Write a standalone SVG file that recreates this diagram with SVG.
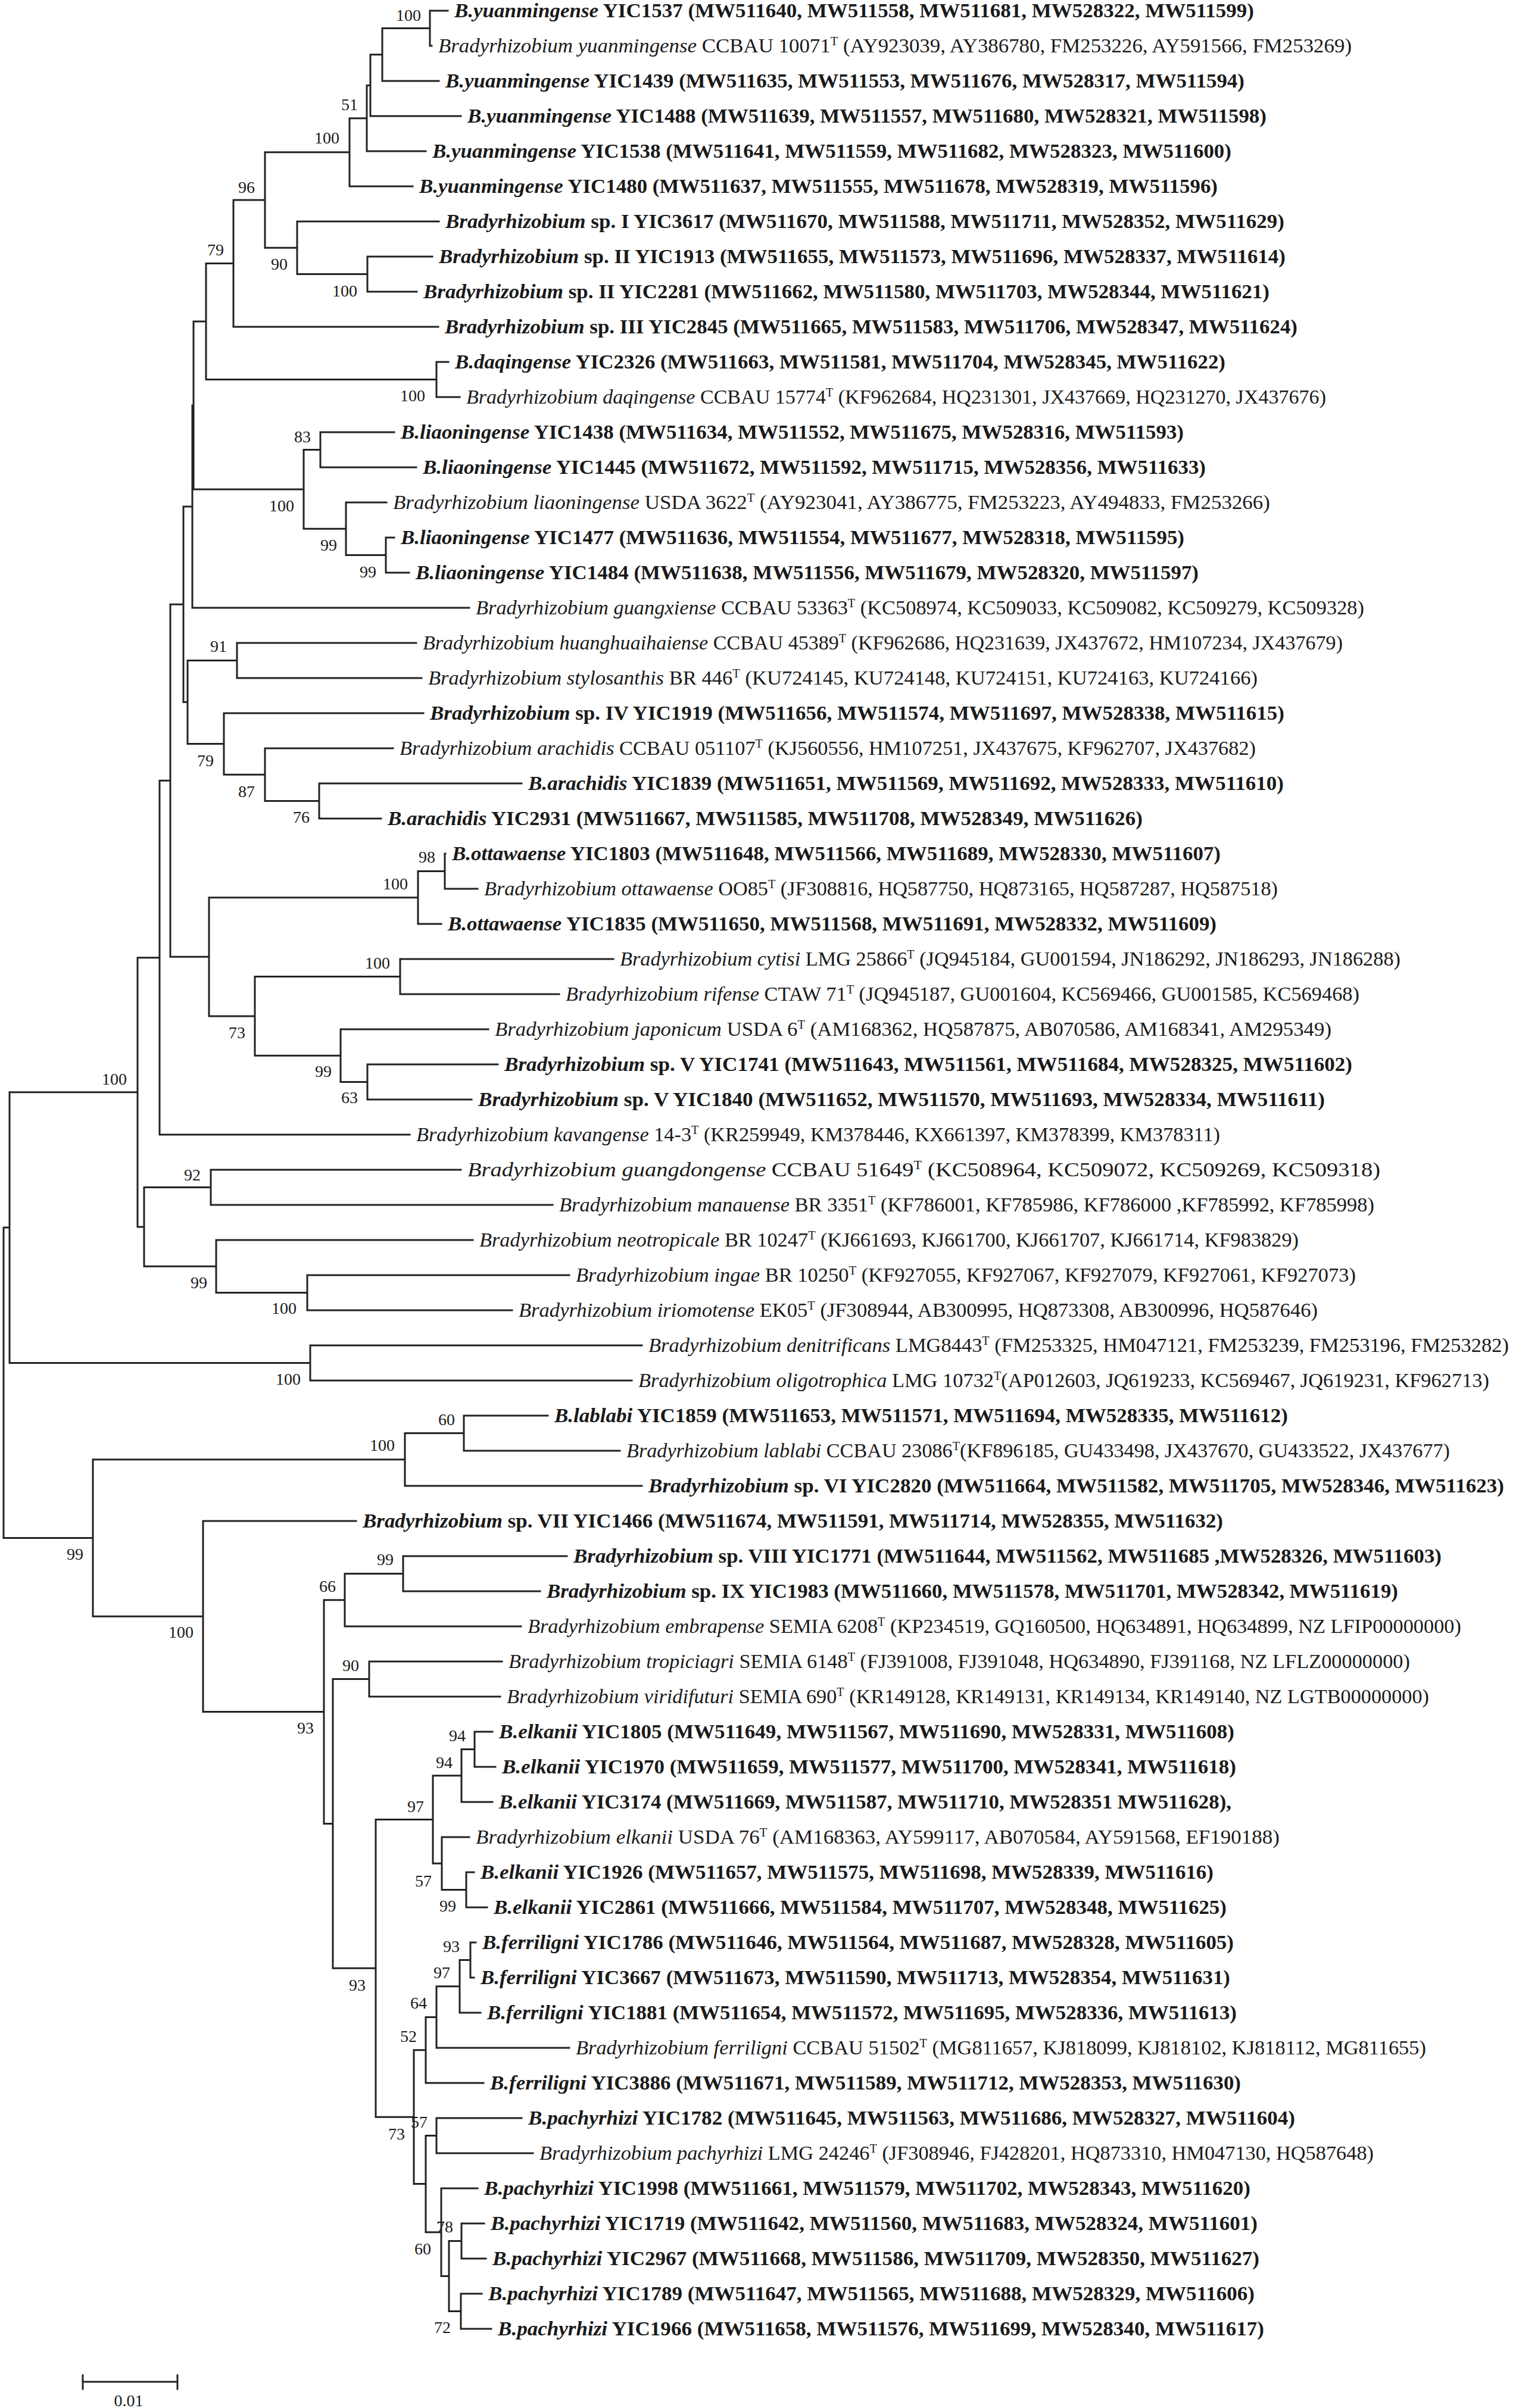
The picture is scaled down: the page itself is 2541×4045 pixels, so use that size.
<svg xmlns="http://www.w3.org/2000/svg" width="2541" height="4045" viewBox="0 0 2541 4045">
<style>
.t{font-family:"Liberation Serif","Times New Roman",serif;font-size:34px;fill:#1a1a1a}
.b{font-weight:bold}
.i{font-style:italic}
.s{font-size:20px}
.bs{font-family:"Liberation Serif","Times New Roman",serif;font-size:28px;fill:#1a1a1a;text-anchor:middle}
.edge{fill:none;stroke:#222;stroke-width:3;stroke-linecap:square}
</style>
<rect width="2541" height="4045" fill="#fff"/>
<g id="connectors" class="edge">
<path d="M722 18V77M722 18H752M722 77H725
M642 47.5V136M642 47.5H722M642 136H737
M622 91.75V195M622 91.75H642M622 195H774
M616 143.4V254M616 143.4H622M616 254H715
M587 198.7V313M587 198.7H616M587 313H693
M617 431V490M617 431H726M617 490H700
M499 372V460.5M499 372H737M499 460.5H617
M445 255.8V416.25M445 255.8H587M445 416.25H499
M392 336V549M392 336H445M392 549H736
M733 608V667M733 608H753M733 667H772
M346 442.5V637.5M346 442.5H392M346 637.5H733
M538 726V785M538 726H662M538 785H699
M648 903V962M648 903H662M648 962H687
M581 844V932.5M581 844H649M581 932.5H648
M510 755.5V888.25M510 755.5H538M510 888.25H581
M325 540V821.9M325 540H346M325 821.9H510
M323 681V1021M323 681H325M323 1021H788
M398 1080V1139M398 1080H699M398 1139H708
M536 1316V1375M536 1316H876M536 1375H640
M445 1257V1345.5M445 1257H660M445 1345.5H536
M376 1198V1301.25M376 1198H711M376 1301.25H445
M315 1109.5V1249.6M315 1109.5H398M315 1249.6H376
M308 851V1179.6M308 851H323M308 1179.6H315
M747 1434V1493M747 1434H748M747 1493H802
M702 1463.5V1552M702 1463.5H747M702 1552H741
M672 1611V1670M672 1611H1030M672 1670H939
M617 1788V1847M617 1788H836M617 1847H792
M572 1729V1817.5M572 1729H820M572 1817.5H617
M428 1640.5V1773.25M428 1640.5H672M428 1773.25H572
M351 1507.75V1706.9M351 1507.75H702M351 1706.9H428
M286 1015.3V1607.3M286 1015.3H308M286 1607.3H351
M268 1311.3V1906M268 1311.3H286M268 1906H688
M354 1965V2024M354 1965H774M354 2024H928
M516 2142V2201M516 2142H956M516 2201H860
M363 2083V2171.5M363 2083H794M363 2171.5H516
M242 1994.5V2127.25M242 1994.5H354M242 2127.25H363
M231 1608.7V2060.9M231 1608.7H268M231 2060.9H242
M521 2260V2319M521 2260H1078M521 2319H1061
M16 1834.8V2289.5M16 1834.8H231M16 2289.5H521
M779 2378V2437M779 2378H920M779 2437H1041
M680 2407.5V2496M680 2407.5H779M680 2496H1078
M677 2614V2673M677 2614H952M677 2673H907
M579 2643.5V2732M579 2643.5H677M579 2732H875
M620 2791V2850M620 2791H843M620 2850H840
M797 2909V2968M797 2909H827M797 2968H832
M775 2938.5V3027M775 2938.5H797M775 3027H827
M783 3145V3204M783 3145H796M783 3204H818
M742 3086V3174.5M742 3086H788M742 3174.5H783
M727 2982.75V3130.25M727 2982.75H775M727 3130.25H742
M790 3263V3322M790 3263H799M790 3322H796
M772 3292.5V3381M772 3292.5H790M772 3381H807
M733 3336.75V3440M733 3336.75H772M733 3440H956
M715 3388.4V3499M715 3388.4H733M715 3499H812
M733 3558V3617M733 3558H876M733 3617H895
M775 3735V3794M775 3735H813M775 3794H816
M774 3853V3912M774 3853H809M774 3912H825
M754 3764.5V3882.5M754 3764.5H775M754 3882.5H774
M741 3676V3823.5M741 3676H802M741 3823.5H754
M715 3587.5V3749.75M715 3587.5H733M715 3749.75H741
M695 3443.7V3668.6M695 3443.7H715M695 3668.6H715
M631 3056.5V3556.2M631 3056.5H727M631 3556.2H695
M559 2820.5V3306.3M559 2820.5H620M559 3306.3H631
M544 2687.75V3063.4M544 2687.75H579M544 3063.4H559
M341 2555V2875.6M341 2555H598M341 2875.6H544
M156 2451.75V2715.3M156 2451.75H680M156 2715.3H341
M6 2062V2583.5M6 2062H16M6 2583.5H156"/>
</g>
<g id="bootstrap" class="bs">
<text x="686" y="35">100</text>
<text x="587" y="185">51</text>
<text x="549" y="241">100</text>
<text x="414" y="324">96</text>
<text x="362" y="429">79</text>
<text x="469" y="453">90</text>
<text x="579" y="498">100</text>
<text x="693" y="674">100</text>
<text x="508" y="743">83</text>
<text x="473" y="859">100</text>
<text x="552" y="925">99</text>
<text x="618" y="970">99</text>
<text x="367" y="1095">91</text>
<text x="345" y="1287">79</text>
<text x="414" y="1339">87</text>
<text x="506" y="1382">76</text>
<text x="717" y="1449">98</text>
<text x="664" y="1494">100</text>
<text x="634" y="1627">100</text>
<text x="398" y="1744">73</text>
<text x="543" y="1809">99</text>
<text x="587" y="1853">63</text>
<text x="192" y="1822">100</text>
<text x="323" y="1983">92</text>
<text x="334" y="2164">99</text>
<text x="477" y="2207">100</text>
<text x="484" y="2326">100</text>
<text x="750" y="2394">60</text>
<text x="642" y="2437">100</text>
<text x="126" y="2620">99</text>
<text x="647" y="2629">99</text>
<text x="550" y="2674">66</text>
<text x="304" y="2751">100</text>
<text x="589" y="2807">90</text>
<text x="513" y="2912">93</text>
<text x="768" y="2925">94</text>
<text x="746" y="2970">94</text>
<text x="698" y="3044">97</text>
<text x="711" y="3169">57</text>
<text x="752" y="3211">99</text>
<text x="758" y="3279">93</text>
<text x="742" y="3323">97</text>
<text x="600" y="3344">93</text>
<text x="703" y="3374">64</text>
<text x="686" y="3430">52</text>
<text x="704" y="3574">57</text>
<text x="666" y="3594">73</text>
<text x="747" y="3750">78</text>
<text x="710" y="3787">60</text>
<text x="743" y="3919">72</text>
</g>
<g id="leaves" class="t">
<g id="n1"><text x="763" y="29" textLength="1343" lengthAdjust="spacingAndGlyphs" class="b"><tspan class="i">B.yuanmingense</tspan> YIC1537 (MW511640, MW511558, MW511681, MW528322, MW511599)</text></g>
<g id="n2"><text x="736" y="88" textLength="1534" lengthAdjust="spacingAndGlyphs"><tspan class="i">Bradyrhizobium yuanmingense</tspan> CCBAU 10071<tspan class="s" dy="-12">T</tspan><tspan dy="12"> (AY923039, AY386780, FM253226, AY591566, FM253269)</tspan></text></g>
<g id="n3"><text x="748" y="147" textLength="1342" lengthAdjust="spacingAndGlyphs" class="b"><tspan class="i">B.yuanmingense</tspan> YIC1439 (MW511635, MW511553, MW511676, MW528317, MW511594)</text></g>
<g id="n4"><text x="785" y="206" textLength="1342" lengthAdjust="spacingAndGlyphs" class="b"><tspan class="i">B.yuanmingense</tspan> YIC1488 (MW511639, MW511557, MW511680, MW528321, MW511598)</text></g>
<g id="n5"><text x="726" y="265" textLength="1342" lengthAdjust="spacingAndGlyphs" class="b"><tspan class="i">B.yuanmingense</tspan> YIC1538 (MW511641, MW511559, MW511682, MW528323, MW511600)</text></g>
<g id="n6"><text x="704" y="324" textLength="1341" lengthAdjust="spacingAndGlyphs" class="b"><tspan class="i">B.yuanmingense</tspan> YIC1480 (MW511637, MW511555, MW511678, MW528319, MW511596)</text></g>
<g id="n7"><text x="748" y="383" textLength="1409" lengthAdjust="spacingAndGlyphs" class="b"><tspan class="i">Bradyrhizobium</tspan> sp. I YIC3617 (MW511670, MW511588, MW511711, MW528352, MW511629)</text></g>
<g id="n8"><text x="737" y="442" textLength="1422" lengthAdjust="spacingAndGlyphs" class="b"><tspan class="i">Bradyrhizobium</tspan> sp. II YIC1913 (MW511655, MW511573, MW511696, MW528337, MW511614)</text></g>
<g id="n9"><text x="711" y="501" textLength="1421" lengthAdjust="spacingAndGlyphs" class="b"><tspan class="i">Bradyrhizobium</tspan> sp. II YIC2281 (MW511662, MW511580, MW511703, MW528344, MW511621)</text></g>
<g id="n10"><text x="747" y="560" textLength="1432" lengthAdjust="spacingAndGlyphs" class="b"><tspan class="i">Bradyrhizobium</tspan> sp. III YIC2845 (MW511665, MW511583, MW511706, MW528347, MW511624)</text></g>
<g id="n11"><text x="764" y="619" textLength="1294" lengthAdjust="spacingAndGlyphs" class="b"><tspan class="i">B.daqingense</tspan> YIC2326 (MW511663, MW511581, MW511704, MW528345, MW511622)</text></g>
<g id="n12"><text x="783" y="678" textLength="1444" lengthAdjust="spacingAndGlyphs"><tspan class="i">Bradyrhizobium daqingense</tspan> CCBAU 15774<tspan class="s" dy="-12">T</tspan><tspan dy="12"> (KF962684, HQ231301, JX437669, HQ231270, JX437676)</tspan></text></g>
<g id="n13"><text x="673" y="737" textLength="1315" lengthAdjust="spacingAndGlyphs" class="b"><tspan class="i">B.liaoningense</tspan> YIC1438 (MW511634, MW511552, MW511675, MW528316, MW511593)</text></g>
<g id="n14"><text x="710" y="796" textLength="1315" lengthAdjust="spacingAndGlyphs" class="b"><tspan class="i">B.liaoningense</tspan> YIC1445 (MW511672, MW511592, MW511715, MW528356, MW511633)</text></g>
<g id="n15"><text x="660" y="855" textLength="1473" lengthAdjust="spacingAndGlyphs"><tspan class="i">Bradyrhizobium liaoningense</tspan> USDA 3622<tspan class="s" dy="-12">T</tspan><tspan dy="12"> (AY923041, AY386775, FM253223, AY494833, FM253266)</tspan></text></g>
<g id="n16"><text x="673" y="914" textLength="1316" lengthAdjust="spacingAndGlyphs" class="b"><tspan class="i">B.liaoningense</tspan> YIC1477 (MW511636, MW511554, MW511677, MW528318, MW511595)</text></g>
<g id="n17"><text x="698" y="973" textLength="1315" lengthAdjust="spacingAndGlyphs" class="b"><tspan class="i">B.liaoningense</tspan> YIC1484 (MW511638, MW511556, MW511679, MW528320, MW511597)</text></g>
<g id="n18"><text x="799" y="1032" textLength="1492" lengthAdjust="spacingAndGlyphs"><tspan class="i">Bradyrhizobium guangxiense</tspan> CCBAU 53363<tspan class="s" dy="-12">T</tspan><tspan dy="12"> (KC508974, KC509033, KC509082, KC509279, KC509328)</tspan></text></g>
<g id="n19"><text x="710" y="1091" textLength="1545" lengthAdjust="spacingAndGlyphs"><tspan class="i">Bradyrhizobium huanghuaihaiense</tspan> CCBAU 45389<tspan class="s" dy="-12">T</tspan><tspan dy="12"> (KF962686, HQ231639, JX437672, HM107234, JX437679)</tspan></text></g>
<g id="n20"><text x="719" y="1150" textLength="1393" lengthAdjust="spacingAndGlyphs"><tspan class="i">Bradyrhizobium stylosanthis</tspan> BR 446<tspan class="s" dy="-12">T</tspan><tspan dy="12"> (KU724145, KU724148, KU724151, KU724163, KU724166)</tspan></text></g>
<g id="n21"><text x="722" y="1209" textLength="1435" lengthAdjust="spacingAndGlyphs" class="b"><tspan class="i">Bradyrhizobium</tspan> sp. IV YIC1919 (MW511656, MW511574, MW511697, MW528338, MW511615)</text></g>
<g id="n22"><text x="671" y="1268" textLength="1438" lengthAdjust="spacingAndGlyphs"><tspan class="i">Bradyrhizobium arachidis</tspan> CCBAU 051107<tspan class="s" dy="-12">T</tspan><tspan dy="12"> (KJ560556, HM107251, JX437675, KF962707, JX437682)</tspan></text></g>
<g id="n23"><text x="887" y="1327" textLength="1269" lengthAdjust="spacingAndGlyphs" class="b"><tspan class="i">B.arachidis</tspan> YIC1839 (MW511651, MW511569, MW511692, MW528333, MW511610)</text></g>
<g id="n24"><text x="651" y="1386" textLength="1268" lengthAdjust="spacingAndGlyphs" class="b"><tspan class="i">B.arachidis</tspan> YIC2931 (MW511667, MW511585, MW511708, MW528349, MW511626)</text></g>
<g id="n25"><text x="759" y="1445" textLength="1291" lengthAdjust="spacingAndGlyphs" class="b"><tspan class="i">B.ottawaense</tspan> YIC1803 (MW511648, MW511566, MW511689, MW528330, MW511607)</text></g>
<g id="n26"><text x="813" y="1504" textLength="1333" lengthAdjust="spacingAndGlyphs"><tspan class="i">Bradyrhizobium ottawaense</tspan> OO85<tspan class="s" dy="-12">T</tspan><tspan dy="12"> (JF308816, HQ587750, HQ873165, HQ587287, HQ587518)</tspan></text></g>
<g id="n27"><text x="752" y="1563" textLength="1291" lengthAdjust="spacingAndGlyphs" class="b"><tspan class="i">B.ottawaense</tspan> YIC1835 (MW511650, MW511568, MW511691, MW528332, MW511609)</text></g>
<g id="n28"><text x="1041" y="1622" textLength="1311" lengthAdjust="spacingAndGlyphs"><tspan class="i">Bradyrhizobium cytisi</tspan> LMG 25866<tspan class="s" dy="-12">T</tspan><tspan dy="12"> (JQ945184, GU001594, JN186292, JN186293, JN186288)</tspan></text></g>
<g id="n29"><text x="950" y="1681" textLength="1333" lengthAdjust="spacingAndGlyphs"><tspan class="i">Bradyrhizobium rifense</tspan> CTAW 71<tspan class="s" dy="-12">T</tspan><tspan dy="12"> (JQ945187, GU001604, KC569466, GU001585, KC569468)</tspan></text></g>
<g id="n30"><text x="831" y="1740" textLength="1405" lengthAdjust="spacingAndGlyphs"><tspan class="i">Bradyrhizobium japonicum</tspan> USDA 6<tspan class="s" dy="-12">T</tspan><tspan dy="12"> (AM168362, HQ587875, AB070586, AM168341, AM295349)</tspan></text></g>
<g id="n31"><text x="847" y="1799" textLength="1424" lengthAdjust="spacingAndGlyphs" class="b"><tspan class="i">Bradyrhizobium</tspan> sp. V YIC1741 (MW511643, MW511561, MW511684, MW528325, MW511602)</text></g>
<g id="n32"><text x="803" y="1858" textLength="1422" lengthAdjust="spacingAndGlyphs" class="b"><tspan class="i">Bradyrhizobium</tspan> sp. V YIC1840 (MW511652, MW511570, MW511693, MW528334, MW511611)</text></g>
<g id="n33"><text x="699" y="1917" textLength="1350" lengthAdjust="spacingAndGlyphs"><tspan class="i">Bradyrhizobium kavangense</tspan> 14-3<tspan class="s" dy="-12">T</tspan><tspan dy="12"> (KR259949, KM378446, KX661397, KM378399, KM378311)</tspan></text></g>
<g id="n34"><text x="785" y="1976" textLength="1533" lengthAdjust="spacingAndGlyphs"><tspan class="i">Bradyrhizobium guangdongense</tspan> CCBAU 51649<tspan class="s" dy="-12">T</tspan><tspan dy="12"> (KC508964, KC509072, KC509269, KC509318)</tspan></text></g>
<g id="n35"><text x="939" y="2035" textLength="1369" lengthAdjust="spacingAndGlyphs"><tspan class="i">Bradyrhizobium manauense</tspan> BR 3351<tspan class="s" dy="-12">T</tspan><tspan dy="12"> (KF786001, KF785986, KF786000 ,KF785992, KF785998)</tspan></text></g>
<g id="n36"><text x="805" y="2094" textLength="1376" lengthAdjust="spacingAndGlyphs"><tspan class="i">Bradyrhizobium neotropicale</tspan> BR 10247<tspan class="s" dy="-12">T</tspan><tspan dy="12"> (KJ661693, KJ661700, KJ661707, KJ661714, KF983829)</tspan></text></g>
<g id="n37"><text x="967" y="2153" textLength="1310" lengthAdjust="spacingAndGlyphs"><tspan class="i">Bradyrhizobium ingae</tspan> BR 10250<tspan class="s" dy="-12">T</tspan><tspan dy="12"> (KF927055, KF927067, KF927079, KF927061, KF927073)</tspan></text></g>
<g id="n38"><text x="871" y="2212" textLength="1342" lengthAdjust="spacingAndGlyphs"><tspan class="i">Bradyrhizobium iriomotense</tspan> EK05<tspan class="s" dy="-12">T</tspan><tspan dy="12"> (JF308944, AB300995, HQ873308, AB300996, HQ587646)</tspan></text></g>
<g id="n39"><text x="1089" y="2271" textLength="1445" lengthAdjust="spacingAndGlyphs"><tspan class="i">Bradyrhizobium denitrificans</tspan> LMG8443<tspan class="s" dy="-12">T</tspan><tspan dy="12"> (FM253325, HM047121, FM253239, FM253196, FM253282)</tspan></text></g>
<g id="n40"><text x="1072" y="2330" textLength="1429" lengthAdjust="spacingAndGlyphs"><tspan class="i">Bradyrhizobium oligotrophica</tspan> LMG 10732<tspan class="s" dy="-12">T</tspan><tspan dy="12">(AP012603, JQ619233, KC569467, JQ619231, KF962713)</tspan></text></g>
<g id="n41"><text x="931" y="2389" textLength="1232" lengthAdjust="spacingAndGlyphs" class="b"><tspan class="i">B.lablabi</tspan> YIC1859 (MW511653, MW511571, MW511694, MW528335, MW511612)</text></g>
<g id="n42"><text x="1052" y="2448" textLength="1383" lengthAdjust="spacingAndGlyphs"><tspan class="i">Bradyrhizobium lablabi</tspan> CCBAU 23086<tspan class="s" dy="-12">T</tspan><tspan dy="12">(KF896185, GU433498, JX437670, GU433522, JX437677)</tspan></text></g>
<g id="n43"><text x="1089" y="2507" textLength="1437" lengthAdjust="spacingAndGlyphs" class="b"><tspan class="i">Bradyrhizobium</tspan> sp. VI YIC2820 (MW511664, MW511582, MW511705, MW528346, MW511623)</text></g>
<g id="n44"><text x="609" y="2566" textLength="1445" lengthAdjust="spacingAndGlyphs" class="b"><tspan class="i">Bradyrhizobium</tspan> sp. VII YIC1466 (MW511674, MW511591, MW511714, MW528355, MW511632)</text></g>
<g id="n45"><text x="963" y="2625" textLength="1458" lengthAdjust="spacingAndGlyphs" class="b"><tspan class="i">Bradyrhizobium</tspan> sp. VIII YIC1771 (MW511644, MW511562, MW511685 ,MW528326, MW511603)</text></g>
<g id="n46"><text x="918" y="2684" textLength="1430" lengthAdjust="spacingAndGlyphs" class="b"><tspan class="i">Bradyrhizobium</tspan> sp. IX YIC1983 (MW511660, MW511578, MW511701, MW528342, MW511619)</text></g>
<g id="n47"><text x="886" y="2743" textLength="1568" lengthAdjust="spacingAndGlyphs"><tspan class="i">Bradyrhizobium embrapense</tspan> SEMIA 6208<tspan class="s" dy="-12">T</tspan><tspan dy="12"> (KP234519, GQ160500, HQ634891, HQ634899, NZ LFIP00000000)</tspan></text></g>
<g id="n48"><text x="854" y="2802" textLength="1514" lengthAdjust="spacingAndGlyphs"><tspan class="i">Bradyrhizobium tropiciagri</tspan> SEMIA 6148<tspan class="s" dy="-12">T</tspan><tspan dy="12"> (FJ391008, FJ391048, HQ634890, FJ391168, NZ LFLZ00000000)</tspan></text></g>
<g id="n49"><text x="851" y="2861" textLength="1549" lengthAdjust="spacingAndGlyphs"><tspan class="i">Bradyrhizobium viridifuturi</tspan> SEMIA 690<tspan class="s" dy="-12">T</tspan><tspan dy="12"> (KR149128, KR149131, KR149134, KR149140, NZ LGTB00000000)</tspan></text></g>
<g id="n50"><text x="838" y="2920" textLength="1235" lengthAdjust="spacingAndGlyphs" class="b"><tspan class="i">B.elkanii</tspan> YIC1805 (MW511649, MW511567, MW511690, MW528331, MW511608)</text></g>
<g id="n51"><text x="843" y="2979" textLength="1233" lengthAdjust="spacingAndGlyphs" class="b"><tspan class="i">B.elkanii</tspan> YIC1970 (MW511659, MW511577, MW511700, MW528341, MW511618)</text></g>
<g id="n52"><text x="838" y="3038" textLength="1230" lengthAdjust="spacingAndGlyphs" class="b"><tspan class="i">B.elkanii</tspan> YIC3174 (MW511669, MW511587, MW511710, MW528351 MW511628),</text></g>
<g id="n53"><text x="799" y="3097" textLength="1350" lengthAdjust="spacingAndGlyphs"><tspan class="i">Bradyrhizobium elkanii</tspan> USDA 76<tspan class="s" dy="-12">T</tspan><tspan dy="12"> (AM168363, AY599117, AB070584, AY591568, EF190188)</tspan></text></g>
<g id="n54"><text x="807" y="3156" textLength="1231" lengthAdjust="spacingAndGlyphs" class="b"><tspan class="i">B.elkanii</tspan> YIC1926 (MW511657, MW511575, MW511698, MW528339, MW511616)</text></g>
<g id="n55"><text x="829" y="3215" textLength="1231" lengthAdjust="spacingAndGlyphs" class="b"><tspan class="i">B.elkanii</tspan> YIC2861 (MW511666, MW511584, MW511707, MW528348, MW511625)</text></g>
<g id="n56"><text x="810" y="3274" textLength="1262" lengthAdjust="spacingAndGlyphs" class="b"><tspan class="i">B.ferriligni</tspan> YIC1786 (MW511646, MW511564, MW511687, MW528328, MW511605)</text></g>
<g id="n57"><text x="807" y="3333" textLength="1259" lengthAdjust="spacingAndGlyphs" class="b"><tspan class="i">B.ferriligni</tspan> YIC3667 (MW511673, MW511590, MW511713, MW528354, MW511631)</text></g>
<g id="n58"><text x="818" y="3392" textLength="1259" lengthAdjust="spacingAndGlyphs" class="b"><tspan class="i">B.ferriligni</tspan> YIC1881 (MW511654, MW511572, MW511695, MW528336, MW511613)</text></g>
<g id="n59"><text x="967" y="3451" textLength="1428" lengthAdjust="spacingAndGlyphs"><tspan class="i">Bradyrhizobium ferriligni</tspan> CCBAU 51502<tspan class="s" dy="-12">T</tspan><tspan dy="12"> (MG811657, KJ818099, KJ818102, KJ818112, MG811655)</tspan></text></g>
<g id="n60"><text x="823" y="3510" textLength="1261" lengthAdjust="spacingAndGlyphs" class="b"><tspan class="i">B.ferriligni</tspan> YIC3886 (MW511671, MW511589, MW511712, MW528353, MW511630)</text></g>
<g id="n61"><text x="887" y="3569" textLength="1288" lengthAdjust="spacingAndGlyphs" class="b"><tspan class="i">B.pachyrhizi</tspan> YIC1782 (MW511645, MW511563, MW511686, MW528327, MW511604)</text></g>
<g id="n62"><text x="906" y="3628" textLength="1401" lengthAdjust="spacingAndGlyphs"><tspan class="i">Bradyrhizobium pachyrhizi</tspan> LMG 24246<tspan class="s" dy="-12">T</tspan><tspan dy="12"> (JF308946, FJ428201, HQ873310, HM047130, HQ587648)</tspan></text></g>
<g id="n63"><text x="813" y="3687" textLength="1287" lengthAdjust="spacingAndGlyphs" class="b"><tspan class="i">B.pachyrhizi</tspan> YIC1998 (MW511661, MW511579, MW511702, MW528343, MW511620)</text></g>
<g id="n64"><text x="824" y="3746" textLength="1288" lengthAdjust="spacingAndGlyphs" class="b"><tspan class="i">B.pachyrhizi</tspan> YIC1719 (MW511642, MW511560, MW511683, MW528324, MW511601)</text></g>
<g id="n65"><text x="827" y="3805" textLength="1288" lengthAdjust="spacingAndGlyphs" class="b"><tspan class="i">B.pachyrhizi</tspan> YIC2967 (MW511668, MW511586, MW511709, MW528350, MW511627)</text></g>
<g id="n66"><text x="820" y="3864" textLength="1287" lengthAdjust="spacingAndGlyphs" class="b"><tspan class="i">B.pachyrhizi</tspan> YIC1789 (MW511647, MW511565, MW511688, MW528329, MW511606)</text></g>
<g id="n67"><text x="836" y="3923" textLength="1287" lengthAdjust="spacingAndGlyphs" class="b"><tspan class="i">B.pachyrhizi</tspan> YIC1966 (MW511658, MW511576, MW511699, MW528340, MW511617)</text></g>
</g>
<g id="scale-bar">
<path class="edge" d="M139 4001H298M139 3990V4013M298 3990V4013"/>
<text class="bs" x="216" y="4042">0.01</text>
</g>
</svg>
